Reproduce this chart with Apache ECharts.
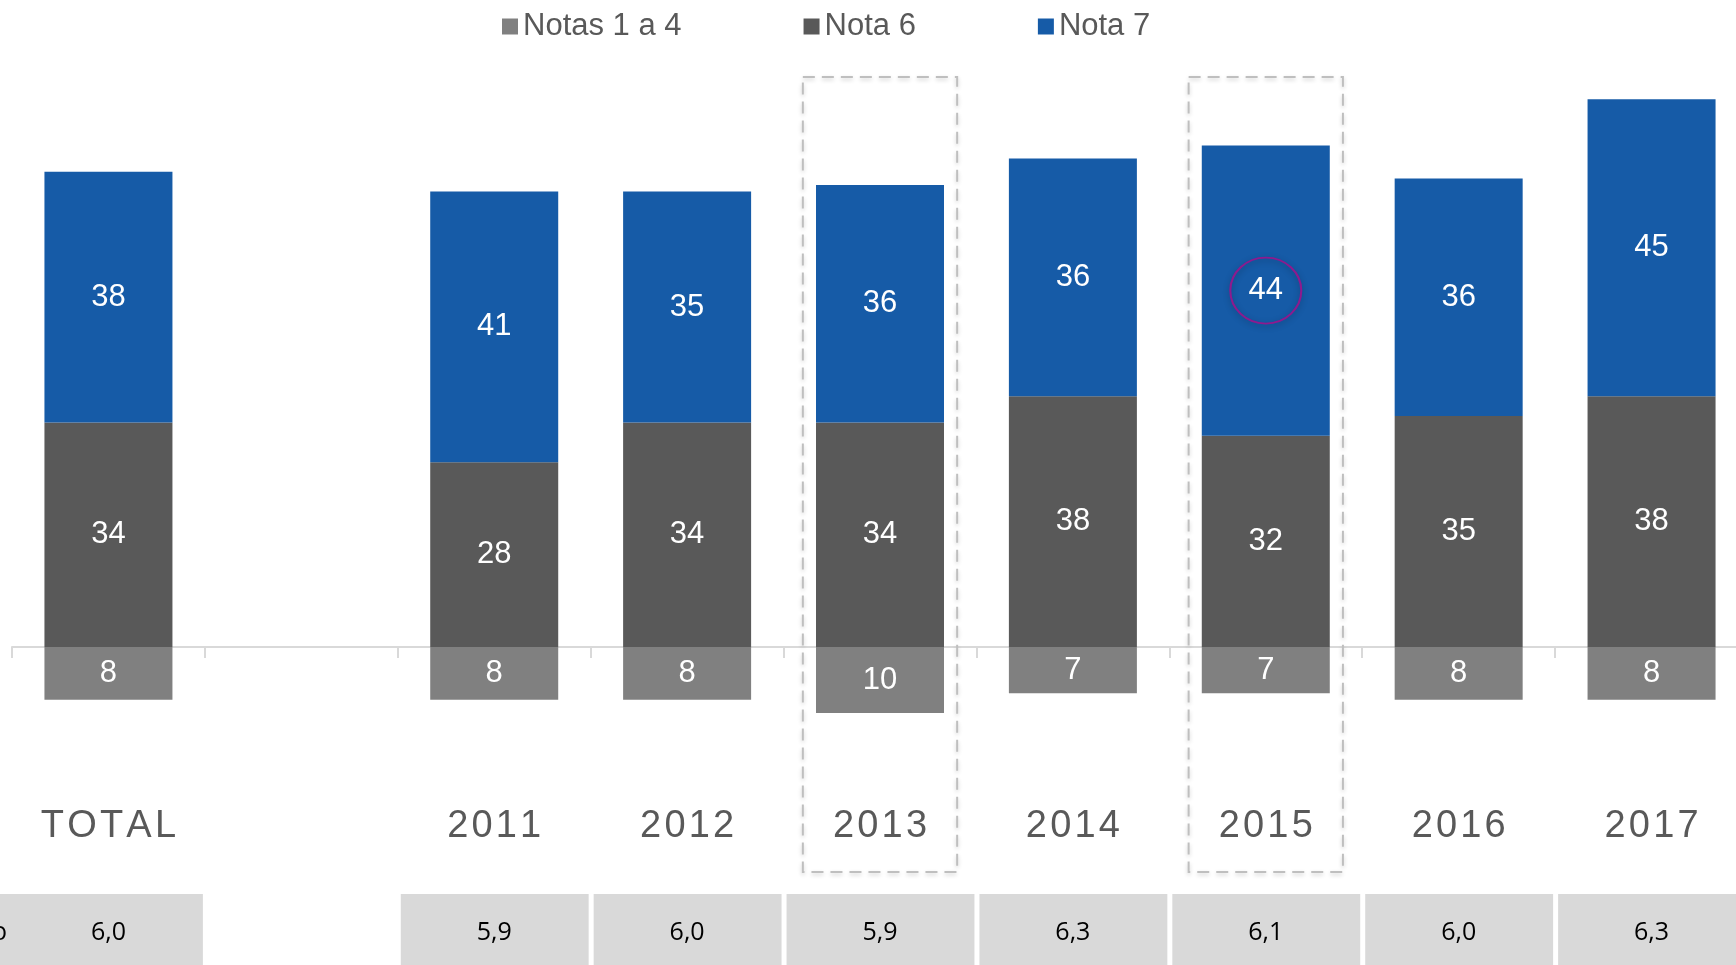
<!DOCTYPE html>
<html>
<head>
<meta charset="utf-8">
<script src="https://cdn.jsdelivr.net/npm/echarts@6/dist/echarts.min.js"></script>
<style>
  html, body { margin: 0; padding: 0; background: #fff; }
  #main { width: 1736px; height: 965px; }
</style>
</head>
<body>
<div id="main"></div>
<script>
  // categorias (la segunda es un hueco entre TOTAL y los años)
  const categories = ['TOTAL', '', '2011', '2012', '2013', '2014', '2015', '2016', '2017'];
  const notas1a4 = [-8, '-', -8, -8, -10, -7, -7, -8, -8];
  const nota6 = [34, '-', 28, 34, 34, 38, 32, 35, 38];
  const nota7 = [38, '-', 41, 35, 36, 36, 44, 36, 45];
  const promedio = ['6,0', '', '5,9', '6,0', '5,9', '6,3', '6,1', '6,0', '6,3'];
  const destacados = ['2013', '2015'];
  const marcado = '2015';

  const chartDom = document.getElementById('main');
  const myChart = echarts.init(chartDom);
  const font = "'Liberation Sans', Arial, sans-serif";

  const mi = categories.indexOf(marcado);

  const option = {
    animation: false,
    legend: {
      left: 497,
      top: 6,
      itemWidth: 16,
      itemHeight: 16,
      itemGap: 122,
      icon: 'rect',
      selectedMode: false,
      data: ['Notas 1 a 4', 'Nota 6', 'Nota 7'],
      textStyle: { fontSize: 31, color: '#595959', fontFamily: font }
    },
    grid: { left: 12, right: -12, top: 53, bottom: 186, containLabel: false, outerBoundsMode: 'none' },
    xAxis: [
      {
        // linea del cero con marcas
        type: 'category',
        data: categories,
        axisLine: { onZero: true, lineStyle: { color: '#d9d9d9', width: 2 } },
        axisTick: { show: true, length: 11, lineStyle: { color: '#d9d9d9', width: 2 } },
        axisLabel: { show: false }
      },
      {
        // etiquetas de categoria abajo
        type: 'category',
        data: categories,
        position: 'bottom',
        axisLine: { show: false, onZero: false },
        axisTick: { show: false },
        axisLabel: {
          show: true, margin: 29, interval: 0, fontSize: 38,
          color: '#595959', fontFamily: font,
          // un poco de espacio entre letras, como en el original
          formatter: (v) => v.split('').join('\u200A')
        }
      }
    ],
    yAxis: {
      type: 'value',
      min: -20,
      max: 90,
      show: false,
      splitLine: { show: false }
    },
    series: [
      {
        name: 'Notas 1 a 4',
        type: 'bar',
        stack: 'total',
        barWidth: 128,
        data: notas1a4,
        itemStyle: { color: '#808080' },
        label: {
          show: true, position: 'inside', color: '#fff', fontSize: 31, fontFamily: font,
          formatter: (p) => Math.abs(p.value)
        }
      },
      {
        name: 'Nota 6',
        type: 'bar',
        stack: 'total',
        barWidth: 128,
        data: nota6,
        itemStyle: { color: '#595959' },
        label: { show: true, position: 'inside', color: '#fff', fontSize: 31, fontFamily: font }
      },
      {
        name: 'Nota 7',
        type: 'bar',
        stack: 'total',
        barWidth: 128,
        data: nota7,
        itemStyle: { color: '#165ba7' },
        label: { show: true, position: 'inside', color: '#fff', fontSize: 31, fontFamily: font },
        markPoint: {
          symbol: 'circle',
          symbolSize: [71, 66],
          silent: true,
          label: { show: false },
          itemStyle: {
            color: 'rgba(0,0,0,0)',
            borderColor: '#8e1a8e',
            borderWidth: 2,
            shadowBlur: 6,
            shadowColor: 'rgba(0,0,0,0.3)',
            shadowOffsetY: 2
          },
          data: [{ coord: [marcado, nota6[mi] + nota7[mi] / 2] }]
        }
      },
      {
        // cajas punteadas sobre los años destacados
        type: 'custom',
        clip: false,
        silent: true,
        z: 5,
        data: destacados,
        renderItem: (params, api) => {
          const idx = categories.indexOf(destacados[params.dataIndex]);
          const cx = api.coord([idx, 0])[0];
          const w = api.size([1, 0])[0] * 0.8;
          return {
            type: 'rect',
            shape: { x: cx - w / 2, y: 77, width: w, height: 795 },
            style: {
              fill: 'none',
              stroke: '#bfbfbf',
              lineWidth: 2,
              lineDash: [12, 7],
              shadowBlur: 4,
              shadowColor: 'rgba(0,0,0,0.2)',
              shadowOffsetY: 2
            }
          };
        }
      },
      {
        // fila de promedios
        type: 'custom',
        clip: false,
        silent: true,
        data: promedio,
        renderItem: (params, api) => {
          const idx = params.dataIndex;
          const txt = promedio[idx];
          if (!txt) return null;
          const cx = api.coord([idx, 0])[0];
          const w = api.size([1, 0])[0];
          return {
            type: 'group',
            children: [
              {
                type: 'rect',
                shape: { x: cx - w / 2 + 3, y: 894, width: w - 5, height: 71 },
                style: { fill: '#d9d9d9' }
              },
              {
                type: 'text',
                style: {
                  x: cx, y: 933, text: txt, align: 'center', verticalAlign: 'middle',
                  fill: '#000', font: "25px 'Open Sans', sans-serif"
                }
              }
            ]
          };
        }
      }
    ],
    graphic: [
      { type: 'rect', shape: { x: 0, y: 894, width: 15, height: 71 }, style: { fill: '#d9d9d9' } },
      {
        type: 'text',
        style: {
          x: 7, y: 933, text: 'Promedio', align: 'right', verticalAlign: 'middle',
          fill: '#000', font: "25px 'Open Sans', sans-serif"
        }
      }
    ]
  };

  option && myChart.setOption(option);

  window.addEventListener('resize', () => {
    myChart.resize();
  });
</script>
</body>
</html>
